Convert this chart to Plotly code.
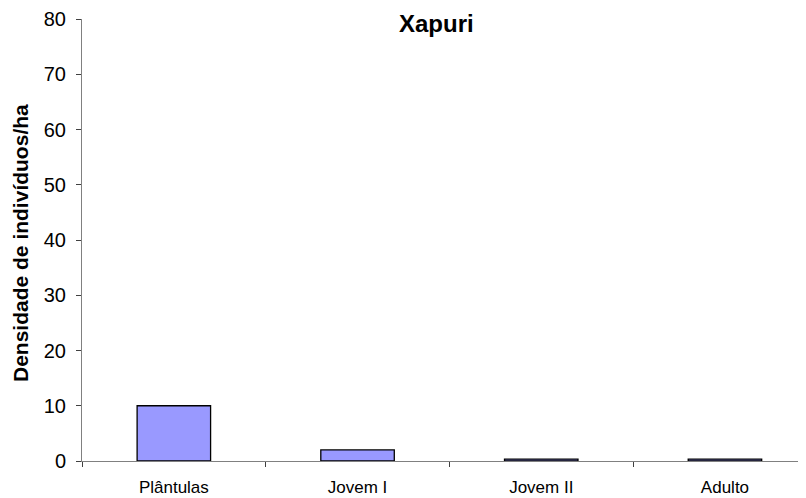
import plotly.graph_objects as go

categories = ["Plântulas", "Jovem I", "Jovem II", "Adulto"]
densidade = [10.0, 2.0, 0.35, 0.35]
y_ticks = [0, 10, 20, 30, 40, 50, 60, 70, 80]

# page has an 8px body margin; figure sized so it ends at the window edge
OFF = 8
W, H = 806 - OFF, 498 - OFF
L, R, T, B = 82 - OFF, 0, 19 - OFF, 498 - 461
plot_w = W - L - R
plot_h = H - T - B
slot = 183.7

fig = go.Figure(go.Bar(
    x=categories, y=densidade,
    marker=dict(color="#9999FF", line=dict(color="black", width=1.3)),
    width=0.4,
))

fig.update_layout(
    width=W, height=H,
    margin=dict(l=L, r=R, t=T, b=B, pad=0, autoexpand=False),
    paper_bgcolor="white", plot_bgcolor="white",
    font=dict(family="Liberation Sans, Arial, sans-serif", color="black", size=17),
    showlegend=False,
    xaxis=dict(
        range=[-0.5, -0.5 + plot_w / slot],
        showline=True, linecolor="#808080", linewidth=1,
        ticks="outside", tickson="boundaries", ticklen=5, tickcolor="#404040",
        showgrid=False, zeroline=False,
        tickfont=dict(size=17),
        ticklabelstandoff=11,
    ),
    yaxis=dict(
        range=[0, 80], tickvals=y_ticks,
        showline=True, linecolor="#808080", linewidth=1,
        ticks="outside", ticklen=5, tickcolor="#404040",
        showgrid=False, zeroline=False,
        tickfont=dict(size=20), ticklabelstandoff=6,
    ),
    annotations=[
        dict(text="<b>Xapuri</b>", xref="paper", yref="paper",
             x=(436 - 82) / plot_w, y=1 - (24 - 19) / plot_h,
             xanchor="center", yanchor="middle", showarrow=False,
             font=dict(size=24)),
        dict(text="<b>Densidade de indivíduos/ha</b>", xref="paper", yref="paper",
             x=(20 - 82) / plot_w, y=1 - (243 - 19) / plot_h,
             xanchor="center", yanchor="middle", showarrow=False,
             textangle=-90, font=dict(size=21)),
    ],
)

fig.write_html("out.html")
